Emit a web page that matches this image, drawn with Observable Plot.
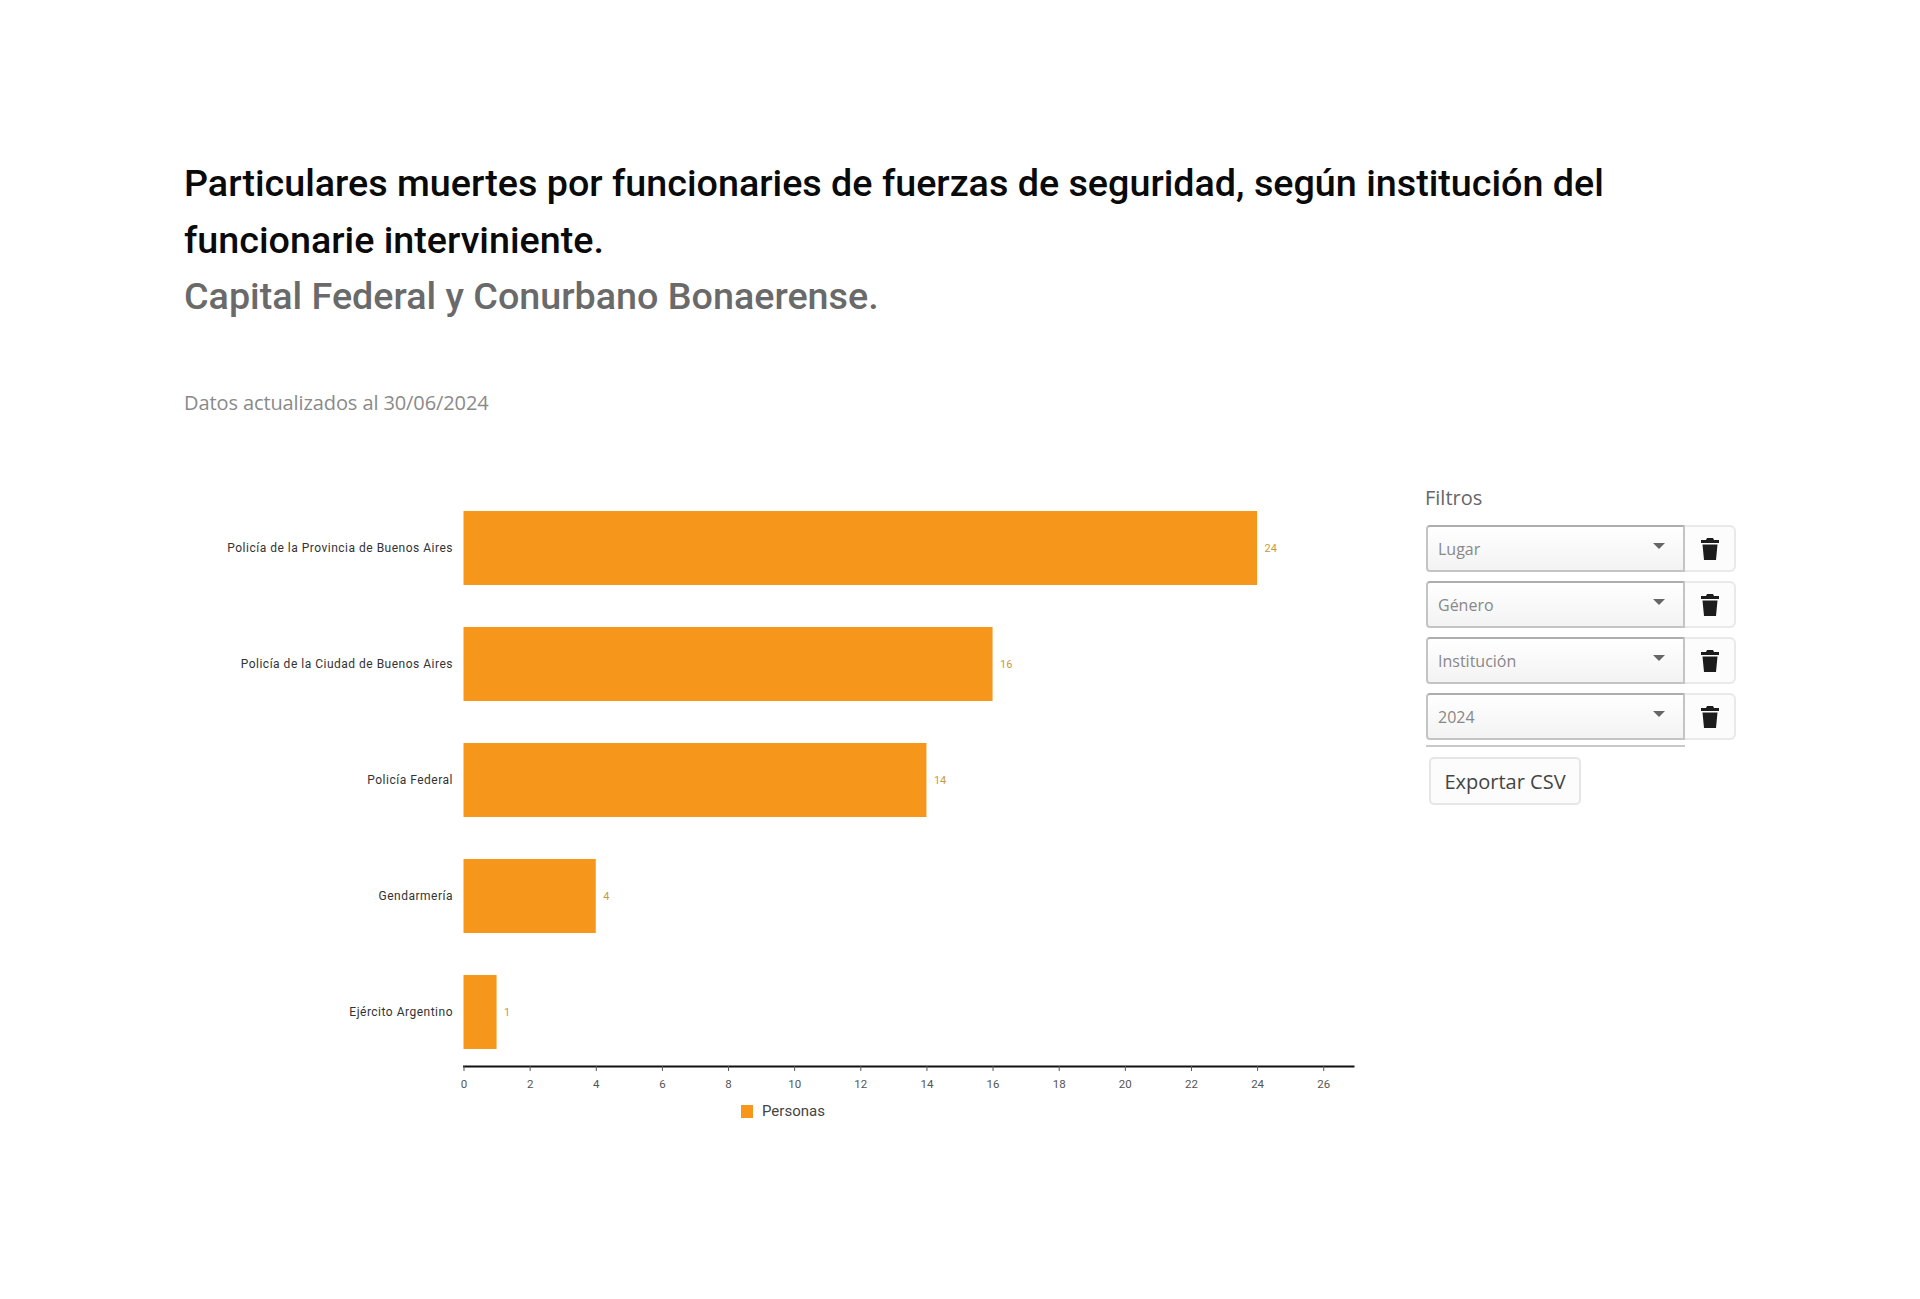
<!DOCTYPE html>
<html lang="es">
<head>
<meta charset="utf-8">
<script src="https://cdn.jsdelivr.net/npm/d3@7"></script>
<script src="https://cdn.jsdelivr.net/npm/@observablehq/plot@0.6"></script>
<style>
html,body{margin:0;background:#fff;}
#page{position:relative;width:1920px;height:1299px;overflow:hidden;background:#fff;font-family:"Open Sans",sans-serif;}
#page>*{position:absolute;}
h1{margin:0;left:184px;top:155px;width:1480px;font:500 37.7px/57px Roboto,sans-serif;color:#0a0a0a;}
h1 span{display:block;color:#6a6a6a;margin-top:-1px;}
#updated{left:184px;top:389px;font-size:20px;line-height:28px;color:#8a8a8a;letter-spacing:-.1px;}
#chart{left:0;top:470px;}
#legend{left:741px;top:1102px;display:flex;align-items:center;gap:9px;font:15px Roboto,sans-serif;color:#444;}
#legend i{display:block;width:12px;height:13px;background:#F6971C;}
#filtersTitle{left:1425px;top:484px;font-size:20px;line-height:27px;color:#666;}
.sel{left:1426px;width:259px;height:47px;box-sizing:border-box;border:2px solid #c4c4c4;border-top-color:#adadad;border-radius:4px 0 0 4px;background:linear-gradient(#fff,#f3f3f3);font-size:16px;color:#888;display:flex;align-items:center;padding-left:10px;}
.sel::after{content:"";position:absolute;right:18px;top:16px;border:6px solid transparent;border-top:6px solid #666;border-bottom:0;}
.trash{left:1685px;width:51px;height:47px;box-sizing:border-box;border:2px solid #e9e9e9;border-left:0;border-radius:0 6px 6px 0;display:flex;align-items:center;justify-content:center;background:#fcfcfc;}
#rule{left:1426px;top:745px;width:259px;height:2px;background:#c9c9c9;}
#export{left:1429px;top:757px;width:152px;height:48px;box-sizing:border-box;border:2px solid #e6e6e6;border-radius:5px;display:flex;align-items:center;justify-content:center;font-size:20px;color:#444;background:#fcfcfc;}
#chart svg{display:block;}
#chart svg g[aria-label="y-axis tick label"]{letter-spacing:.5px;}
</style>
</head>
<body>
<div id="page">
<h1>Particulares muertes por funcionaries de fuerzas de seguridad, según institución del funcionarie interviniente.<span>Capital Federal y Conurbano Bonaerense.</span></h1>
<div id="updated">Datos actualizados al 30/06/2024</div>
<div id="chart"></div>
<div id="legend"><i></i>Personas</div>
<div id="filtersTitle">Filtros</div>
<div id="rule"></div>
<div id="export">Exportar CSV</div>
</div>
<script>
const instituciones = [
  "Policía de la Provincia de Buenos Aires",
  "Policía de la Ciudad de Buenos Aires",
  "Policía Federal",
  "Gendarmería",
  "Ejército Argentino"
];
const personas = [24, 16, 14, 4, 1];
const xTicks = [0, 2, 4, 6, 8, 10, 12, 14, 16, 18, 20, 22, 24, 26];
const filtros = ["Lugar", "Género", "Institución", "2024"];
const filtroTops = [525, 581, 637, 693];
const naranja = "#F6971C";

const rows = instituciones.map((institucion, i) => ({institucion, valor: personas[i]}));

const plot = Plot.plot({
  width: 1400,
  height: 640,
  marginLeft: 463.5,
  marginRight: 47,
  marginTop: 20,
  marginBottom: 44,
  style: {background: "transparent", fontFamily: "Roboto, sans-serif", overflow: "visible"},
  x: {domain: [0, 26.9], label: null},
  y: {domain: instituciones, range: [20, 600], paddingInner: 0.365, paddingOuter: 0.1825, label: null},
  marks: [
    Plot.barX(rows, {x: "valor", y: "institucion", fill: naranja}),
    Plot.text(rows, {x: "valor", y: "institucion", text: d => String(d.valor), dx: 7, textAnchor: "start", fill: "#c99a3a", fontSize: 11}),
    Plot.axisY({tickSize: 0, tickPadding: 11, fontSize: 12, color: "#333", label: null}),
    Plot.frame({anchor: "bottom", stroke: "#111", strokeWidth: 2}),
    Plot.axisX({ticks: xTicks, tickSize: 5, tickPadding: 8, fontSize: 11.5, color: "#555", label: null, tickFormat: d => String(d)})
  ]
});
document.getElementById("chart").append(plot);

const trash = '<svg width="18" height="22" viewBox="0 0 18 22"><path fill="#1c1c1c" d="M6 0h6l1 2h5v3H0V2h5zM1.5 6.5h15L15 22H3z"/></svg>';
const page = document.getElementById("page");
filtros.forEach((f, i) => {
  const s = document.createElement("div");
  s.className = "sel";
  s.style.top = filtroTops[i] + "px";
  s.textContent = f;
  page.append(s);
  const t = document.createElement("div");
  t.className = "trash";
  t.style.top = filtroTops[i] + "px";
  t.innerHTML = trash;
  page.append(t);
});
</script>
</body>
</html>
